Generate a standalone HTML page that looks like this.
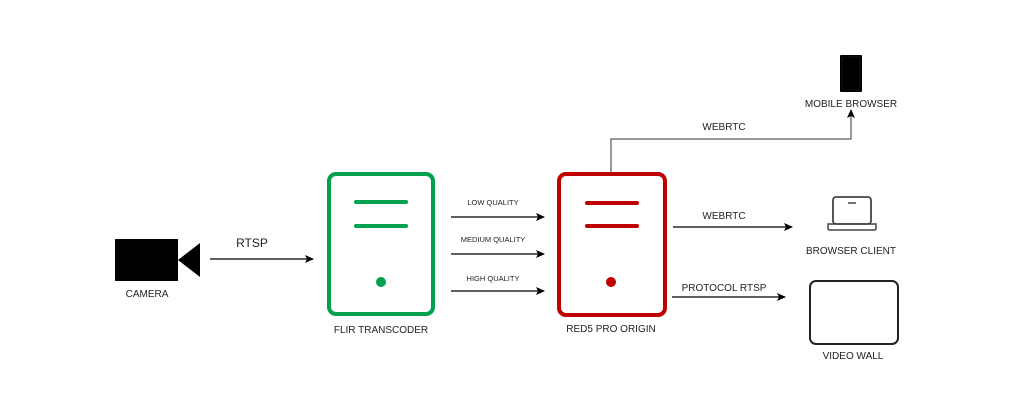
<!DOCTYPE html>
<html><head><style>body{margin:0;background:#fff}svg{display:block}text{font-family:"Liberation Sans",sans-serif;fill:#222}</style></head>
<body>
<svg width="1024" height="415" viewBox="0 0 1024 415" xmlns="http://www.w3.org/2000/svg">
<defs><marker id="a" markerWidth="10" markerHeight="10" refX="8" refY="4" orient="auto" markerUnits="userSpaceOnUse"><path d="M0,0 L9,4 L0,8 L2,4 z" fill="#000"/></marker></defs>
<!-- camera -->
<rect x="115" y="239" width="63" height="42" fill="#000"/>
<polygon points="178,260 200,243 200,277" fill="#000"/>
<text x="147" y="297" font-size="10" text-anchor="middle">CAMERA</text>
<line x1="210" y1="259" x2="313" y2="259" stroke="#000" stroke-width="1.2" marker-end="url(#a)"/>
<text x="252" y="247" font-size="12" text-anchor="middle">RTSP</text>
<!-- green -->
<rect x="329" y="174" width="104" height="140" rx="7" fill="none" stroke="#00a04f" stroke-width="4"/>
<line x1="356" y1="202" x2="406" y2="202" stroke="#00a04f" stroke-width="4" stroke-linecap="round"/>
<line x1="356" y1="226" x2="406" y2="226" stroke="#00a04f" stroke-width="4" stroke-linecap="round"/>
<circle cx="381" cy="282" r="5" fill="#00a04f"/>
<text x="381" y="333" font-size="10" text-anchor="middle">FLIR TRANSCODER</text>
<!-- quality -->
<g stroke="#000" stroke-width="1.2">
<line x1="451" y1="217" x2="544" y2="217" marker-end="url(#a)"/>
<line x1="451" y1="254" x2="544" y2="254" marker-end="url(#a)"/>
<line x1="451" y1="291" x2="544" y2="291" marker-end="url(#a)"/>
</g>
<text x="493" y="205" font-size="7.5" text-anchor="middle">LOW QUALITY</text>
<text x="493" y="242" font-size="7.5" text-anchor="middle">MEDIUM QUALITY</text>
<text x="493" y="281" font-size="7.5" text-anchor="middle">HIGH QUALITY</text>
<!-- red -->
<rect x="559" y="174" width="106" height="141" rx="7" fill="none" stroke="#c00000" stroke-width="4"/>
<line x1="587" y1="203" x2="637" y2="203" stroke="#c00000" stroke-width="4" stroke-linecap="round"/>
<line x1="587" y1="226" x2="637" y2="226" stroke="#c00000" stroke-width="4" stroke-linecap="round"/>
<circle cx="611" cy="282" r="5" fill="#c00000"/>
<text x="611" y="332" font-size="10" text-anchor="middle">RED5 PRO ORIGIN</text>
<!-- mobile -->
<polyline points="611,172 611,139 851,139 851,110" fill="none" stroke="#333" stroke-width="1" marker-end="url(#a)"/>
<text x="724" y="130" font-size="10" text-anchor="middle">WEBRTC</text>
<rect x="840" y="55" width="22" height="37" rx="1" fill="#000"/>
<rect x="842" y="57" width="18" height="33" fill="none" stroke="#444" stroke-width="0.5" stroke-dasharray="1,1"/>
<text x="851" y="107" font-size="10" text-anchor="middle">MOBILE BROWSER</text>
<!-- browser -->
<line x1="673" y1="227" x2="792" y2="227" stroke="#000" stroke-width="1.2" marker-end="url(#a)"/>
<text x="724" y="219" font-size="10" text-anchor="middle">WEBRTC</text>
<rect x="833" y="197" width="38" height="27" rx="3" fill="none" stroke="#444" stroke-width="1.8"/>
<path d="M828,224 H876 V228 Q876,230 874,230 H830 Q828,230 828,228 Z" fill="none" stroke="#444" stroke-width="1.5"/>
<line x1="848" y1="203" x2="856" y2="203" stroke="#444" stroke-width="1.5"/>
<text x="851" y="254" font-size="10" text-anchor="middle">BROWSER CLIENT</text>
<!-- video wall -->
<line x1="672" y1="297" x2="785" y2="297" stroke="#000" stroke-width="1.2" marker-end="url(#a)"/>
<text x="724" y="291" font-size="10" text-anchor="middle">PROTOCOL RTSP</text>
<rect x="810" y="281" width="88" height="63" rx="6" fill="none" stroke="#222" stroke-width="2"/>
<text x="853" y="359" font-size="10" text-anchor="middle">VIDEO WALL</text>
</svg>
</body></html>
